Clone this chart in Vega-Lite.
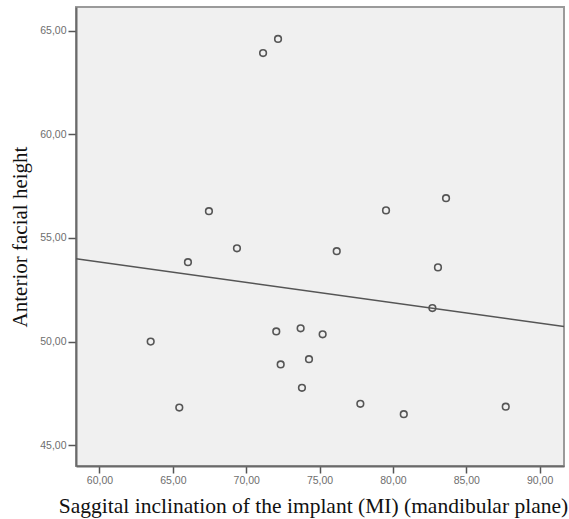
{
  "$schema": "https://vega.github.io/schema/vega-lite/v6.json",
  "width": 488,
  "height": 459,
  "autosize": "none",
  "padding": {"left": 76, "top": 7, "right": 5, "bottom": 53},
  "background": "#ffffff",
  "config": {
    "view": {"fill": "#f0f0f0", "stroke": "#9a9a9a", "strokeWidth": 2},
    "axis": {
      "grid": false,
      "domainColor": "#6a6a6a",
      "domainWidth": 2,
      "tickColor": "#555555",
      "tickWidth": 1.5,
      "tickSize": 8,
      "labelFont": "Liberation Sans",
      "labelFontSize": 10.5,
      "labelColor": "#6e6e6e",
      "titleFont": "Liberation Serif",
      "titleFontWeight": "normal",
      "titleFontSize": 21,
      "titleColor": "#111111"
    }
  },
  "datasets": {
    "points": [
      {"mi": 63.49, "afh": 50.0},
      {"mi": 65.44, "afh": 46.82},
      {"mi": 66.03, "afh": 53.83},
      {"mi": 67.46, "afh": 56.29},
      {"mi": 69.37, "afh": 54.5},
      {"mi": 71.15, "afh": 63.92},
      {"mi": 72.17, "afh": 64.6},
      {"mi": 72.05, "afh": 50.49},
      {"mi": 72.35, "afh": 48.9},
      {"mi": 73.71, "afh": 50.64},
      {"mi": 73.8, "afh": 47.77},
      {"mi": 74.28, "afh": 49.15},
      {"mi": 75.21, "afh": 50.35},
      {"mi": 76.17, "afh": 54.36},
      {"mi": 77.78, "afh": 47.0},
      {"mi": 79.53, "afh": 56.33},
      {"mi": 80.74, "afh": 46.5},
      {"mi": 82.69, "afh": 51.62},
      {"mi": 83.07, "afh": 53.58},
      {"mi": 83.62, "afh": 56.92},
      {"mi": 87.69, "afh": 46.86}
    ],
    "fit": [
      {"mi": 58.4, "afh": 54.0},
      {"mi": 91.66, "afh": 50.73}
    ]
  },
  "encoding": {
    "x": {
      "field": "mi",
      "type": "quantitative",
      "scale": {"domain": [58.4, 91.66], "nice": false, "zero": false},
      "axis": {
        "values": [60, 65, 70, 75, 80, 85, 90],
        "labelExpr": "replace(format(datum.value, '.2f'), '.', ',')",
        "labelPadding": 2,
        "tickSize": 7,
        "title": "Saggital inclination of the implant (MI) (mandibular plane)",
        "titleFontSize": 21.5,
        "titleX": 237,
        "titleY": 46,
        "titleAlign": "center",
        "titleBaseline": "alphabetic"
      }
    },
    "y": {
      "field": "afh",
      "type": "quantitative",
      "scale": {"domain": [44.0, 66.14], "nice": false, "zero": false},
      "axis": {
        "values": [45, 50, 55, 60, 65],
        "labelExpr": "replace(format(datum.value, '.2f'), '.', ',')",
        "labelPadding": 2,
        "title": "Anterior facial height",
        "titleAngle": -90,
        "titleX": -50,
        "titleY": 229.5,
        "titleAlign": "center",
        "titleBaseline": "alphabetic"
      }
    }
  },
  "layer": [
    {
      "data": {"name": "fit"},
      "mark": {"type": "line", "color": "#555555", "strokeWidth": 1.5, "clip": true}
    },
    {
      "data": {"name": "points"},
      "mark": {"type": "point", "shape": "circle", "filled": false, "size": 44, "stroke": "#555555", "strokeWidth": 1.6, "opacity": 1}
    }
  ]
}
